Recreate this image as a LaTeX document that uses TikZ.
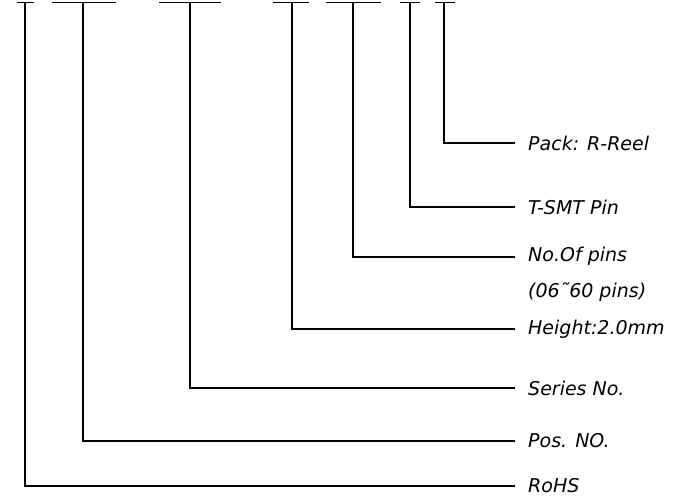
\documentclass[tikz,border=0pt]{standalone}
\usepackage{fontspec}
\setmainfont{DejaVu Sans}
\usepackage{tikz}
\usetikzlibrary{positioning}

\begin{document}
\begin{tikzpicture}[
    x=1pt, y=-1pt,
    bar/.style={line width=1.8pt},
    lead/.style={line width=1.8pt},
    lbl/.style={inner sep=0pt, font=\fontsize{19}{22.8}\selectfont\itshape, align=left}
]
    \useasboundingbox (0,0) rectangle (675,500);

    % Code positions
    \coordinate (rohs) at (25,2.5);
    \coordinate (pos) at (83,2.5);
    \coordinate (series) at (190,2.5);
    \coordinate (height) at (292,2.5);
    \coordinate (pins) at (353,2.5);
    \coordinate (smt) at (410,2.5);
    \coordinate (pack) at (444,2.5);

    \draw[bar] ([xshift=-8.5pt]rohs) -- ([xshift=8.5pt]rohs);
    \draw[bar] ([xshift=-31pt]pos) -- ([xshift=33pt]pos);
    \draw[bar] ([xshift=-31pt]series) -- ([xshift=31pt]series);
    \draw[bar] ([xshift=-19pt]height) -- ([xshift=17pt]height);
    \draw[bar] ([xshift=-27pt]pins) -- ([xshift=28pt]pins);
    \draw[bar] ([xshift=-10pt]smt) -- ([xshift=10pt]smt);
    \draw[bar] ([xshift=-9pt]pack) -- ([xshift=11pt]pack);

    % Line ends
    \coordinate (packend) at (515,143);
    \coordinate (smtend) at (515,207);
    \coordinate (pinsend) at (515,257);
    \coordinate (heightend) at (515,329);
    \coordinate (seriesend) at (515,388);
    \coordinate (posend) at (515,441);
    \coordinate (rohsend) at (515,486);

    % Labels
    \node[lbl, right=13pt of packend] (packtext) {Pack: R-Reel};
    \node[lbl, right=13pt of smtend] (smttext) {T-SMT Pin};
    \node[lbl, right=13pt of pinsend, anchor=north west, yshift=10.5pt] (pinstext) {No.Of pins\\[14pt](06˜60 pins)};
    \node[lbl, right=13pt of heightend] (heighttext) {Height:2.0mm};
    \node[lbl, right=13pt of seriesend] (seriestext) {Series No.};
    \node[lbl, right=13pt of posend] (postext) {Pos. NO.};
    \node[lbl, right=13pt of rohsend] (rohstext) {RoHS};

    % Leaders
    \draw[lead] (pack) |- (packend);
    \draw[lead] (smt) |- (smtend);
    \draw[lead] (pins) |- (pinsend);
    \draw[lead] (height) |- (heightend);
    \draw[lead] (series) |- (seriesend);
    \draw[lead] (pos) |- (posend);
    \draw[lead] (rohs) |- (rohsend);
\end{tikzpicture}
\end{document}
